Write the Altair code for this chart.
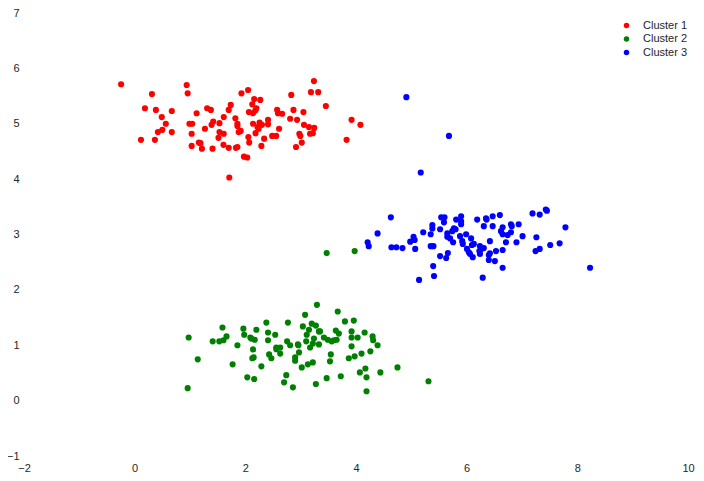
import altair as alt
import pandas as pd

# Cluster 1 (red)
c1_x = [-0.245, 0.94, 0.958, 0.312, 0.186, 0.384, 0.671, 0.49, 0.563, 0.50, 0.42, 0.671, 0.114, 0.366,
        1.12, 0.99, 1.04, 1.03, 1.03, 1.16, 1.19, 1.215, 1.27, 1.31, 1.377, 1.407, 1.42, 1.39, 1.533, 1.61,
        1.533, 1.61, 1.515, 1.605, 1.70, 1.71, 1.70, 1.736, 1.82, 1.857, 1.857, 1.88, 1.916, 1.83, 1.857,
        1.93, 2.05, 2.16, 2.27, 2.126, 2.20, 2.065, 2.14, 2.18, 2.055, 2.07, 1.975, 2.035, 2.14, 2.185,
        2.24, 2.257, 2.30, 2.22, 2.34, 2.29, 2.41, 2.41, 2.485, 2.557, 2.61, 2.575, 2.59, 2.665, 2.83,
        2.87, 2.81, 2.935, 3.05, 3.06, 3.15, 3.245, 2.976, 2.994, 3.02, 2.916, 3.17, 3.22, 3.24, 3.186,
        3.317, 3.455, 3.83, 3.92, 4.08]
c1_y = [5.714, 5.70, 5.55, 5.535, 5.28, 5.25, 5.23, 5.12, 5.0, 4.89, 4.85, 4.85, 4.71, 4.71,
        5.19, 5.0, 5.0, 4.82, 4.60, 4.66, 4.65, 4.55, 4.91, 5.28, 5.25, 4.55, 5.04, 4.98, 5.01, 5.12,
        4.85, 4.82, 4.745, 4.62, 4.565, 4.03, 5.25, 5.34, 5.10, 5.0, 4.96, 4.85, 4.87, 4.565, 4.58,
        5.55, 5.61, 5.445, 5.43, 5.35, 5.28, 5.21, 5.19, 5.24, 4.76, 4.66, 4.405, 4.39, 5.0, 4.83,
        4.91, 5.02, 4.98, 4.94, 4.73, 4.60, 5.07, 4.99, 4.78, 4.78, 4.91, 5.25, 5.19, 5.18, 5.52,
        5.25, 5.09, 5.07, 5.21, 4.98, 4.94, 4.925, 4.82, 4.78, 4.66, 4.58, 4.82, 4.83, 5.77, 5.57,
        5.57, 5.32, 4.71, 5.07, 4.98]

# Cluster 2 (green)
c2_x = [0.976, 0.958, 1.14, 1.41, 1.53, 1.587, 1.605, 1.66, 1.77, 1.857, 1.965, 1.98, 2.035, 2.09,
        2.11, 2.17, 2.20, 2.14, 2.126, 2.15, 2.16, 2.29, 2.38, 2.41, 2.41, 2.43, 2.47, 2.54, 2.56, 2.56,
        2.63, 2.63, 2.70, 2.74, 2.755, 2.77, 2.81, 2.86, 2.90, 2.90, 2.95, 2.96, 2.97, 3.02, 3.04, 3.08,
        3.10, 3.11, 3.13, 3.15, 3.17, 3.20, 3.22, 3.22, 3.24, 3.275, 3.275, 3.294, 3.33, 3.33, 3.35,
        3.42, 3.47, 3.49, 3.53, 3.545, 3.56, 3.60, 3.65, 3.635, 3.69, 3.67, 3.725, 3.80, 3.87, 3.92,
        3.92, 3.92, 3.96, 3.976, 4.03, 4.07, 4.10, 4.156, 4.17, 4.19, 4.19, 4.26, 4.30, 4.31, 4.39,
        4.44, 4.75, 5.31, 3.47, 3.976]
c2_y = [1.14, 0.225, 0.745, 1.07, 1.07, 1.32, 1.09, 1.16, 0.655, 1.00, 1.30, 1.19, 0.42, 1.14,
        1.12, 1.10, 1.28, 0.925, 0.765, 0.78, 0.39, 0.62, 1.41, 1.23, 1.09, 0.835, 0.765, 1.19, 0.96, 0.93,
        0.96, 0.85, 0.33, 0.46, 1.07, 1.41, 1.0, 0.24, 0.78, 0.72, 1.015, 1.0, 0.87, 0.60, 1.34, 1.55,
        1.07, 1.19, 0.655, 1.28, 0.96, 1.39, 0.69, 1.03, 1.12, 1.355, 0.30, 1.73, 1.015, 1.25, 1.25,
        1.14, 0.405, 1.10, 0.71, 0.835, 1.07, 1.09, 1.10, 1.265, 1.21, 1.61, 0.44, 1.43, 0.765, 1.25,
        1.14, 0.98, 1.445, 0.80, 1.14, 0.51, 0.85, 1.23, 0.58, 0.42, 0.17, 0.89, 1.16, 1.09, 1.0,
        0.51, 0.60, 0.35, 2.665, 2.70]

# Cluster 3 (blue)
c3_x = [4.91, 5.68, 5.17, 4.63, 4.39, 4.21, 4.23, 4.64, 4.73, 4.84, 4.98, 5.04, 5.06, 5.07, 5.215,
        5.14, 5.395, 5.41, 5.35, 5.40, 5.35, 5.38, 5.38, 5.52, 5.54, 5.60, 5.59, 5.52, 5.63, 5.66,
        5.65, 5.65, 5.70, 5.755, 5.74, 5.77, 5.81, 5.80, 5.90, 5.90, 5.90, 5.88, 5.92, 5.93, 5.99,
        6.08, 6.006, 6.04, 6.095, 6.13, 6.06, 6.11, 6.19, 6.24, 6.26, 6.31, 6.24, 6.23, 6.29, 6.31,
        6.35, 6.36, 6.42, 6.40, 6.42, 6.40, 6.47, 6.47, 6.51, 6.53, 6.60, 6.62, 6.65, 6.65, 6.65,
        6.65, 6.71, 6.74, 6.80, 6.815, 6.80, 6.90, 6.94, 7.01, 7.19, 7.32, 7.43, 7.45, 7.26, 7.245,
        7.32, 7.51, 7.68, 7.785, 8.23]
c3_y = [5.48, 4.78, 4.12, 3.31, 3.02, 2.86, 2.79, 2.77, 2.77, 2.755, 2.87, 2.96, 2.90, 2.74, 3.04,
        2.18, 2.43, 2.25, 2.79, 2.79, 3.005, 3.17, 3.11, 3.095, 3.31, 3.31, 3.22, 2.61, 2.575, 2.665,
        3.02, 2.96, 2.93, 2.86, 3.06, 3.11, 3.27, 3.095, 3.33, 3.24, 3.185, 2.97, 2.88, 2.83, 3.005,
        2.93, 2.74, 2.68, 2.81, 2.83, 2.65, 2.59, 3.27, 2.79, 2.74, 2.755, 2.65, 2.70, 2.22, 3.15,
        3.29, 3.27, 2.88, 2.63, 2.66, 2.54, 3.33, 3.15, 2.52, 2.70, 3.35, 3.06, 3.13, 3.005, 2.72,
        2.40, 2.86, 2.99, 3.185, 3.15, 3.04, 2.86, 3.185, 2.97, 3.38, 3.36, 3.45, 3.43, 2.95, 2.70,
        2.74, 2.81, 2.84, 3.13, 2.40]

labels = ["Cluster 1", "Cluster 2", "Cluster 3"]
colors = ["#ff0000", "#008000", "#0000ff"]
x_ticks = [-2, 0, 2, 4, 6, 8, 10]
y_ticks = [-1, 0, 1, 2, 3, 4, 5, 6, 7]

frames = []
for lab, xs, ys in zip(labels, [c1_x, c2_x, c3_x], [c1_y, c2_y, c3_y]):
    frames.append(pd.DataFrame({"x": xs, "y": ys, "cluster": lab}))
df = pd.concat(frames, ignore_index=True)

FONT = "Liberation Sans"
TXT = "#262626"

chart = alt.Chart(df).mark_circle(size=38, opacity=1).encode(
    x=alt.X("x:Q", scale=alt.Scale(domain=[-2, 10], nice=False, zero=False),
            axis=alt.Axis(values=x_ticks, title=None, grid=False, domain=False, ticks=False,
                          tickSize=0, labelPadding=6, labelFont=FONT, labelFontSize=11,
                          labelColor=TXT, labelFlush=False, labelOverlap=False)),
    y=alt.Y("y:Q", scale=alt.Scale(domain=[-1, 7], nice=False, zero=False),
            axis=alt.Axis(values=y_ticks, title=None, grid=False, domain=False, ticks=False,
                          tickSize=0, labelPadding=5, labelFont=FONT, labelFontSize=11,
                          labelColor=TXT, labelFlush=False, labelOverlap=False)),
    color=alt.Color("cluster:N", scale=alt.Scale(domain=labels, range=colors),
                    legend=alt.Legend(title=None, orient="none", legendX=597, legendY=7,
                                      symbolType="circle", symbolSize=30, labelFont=FONT,
                                      labelFontSize=11, labelColor=TXT, labelOffset=11,
                                      rowPadding=1.5, symbolStrokeWidth=0)),
).properties(
    width=664, height=443,
    background="white",
    autosize=alt.AutoSizeParams(type="none"),
    padding={"left": 16, "top": 5, "right": 8, "bottom": 17},
).configure_view(strokeWidth=0, stroke="white")

chart.save("out.html", embed_options={"renderer": "svg", "actions": False})
